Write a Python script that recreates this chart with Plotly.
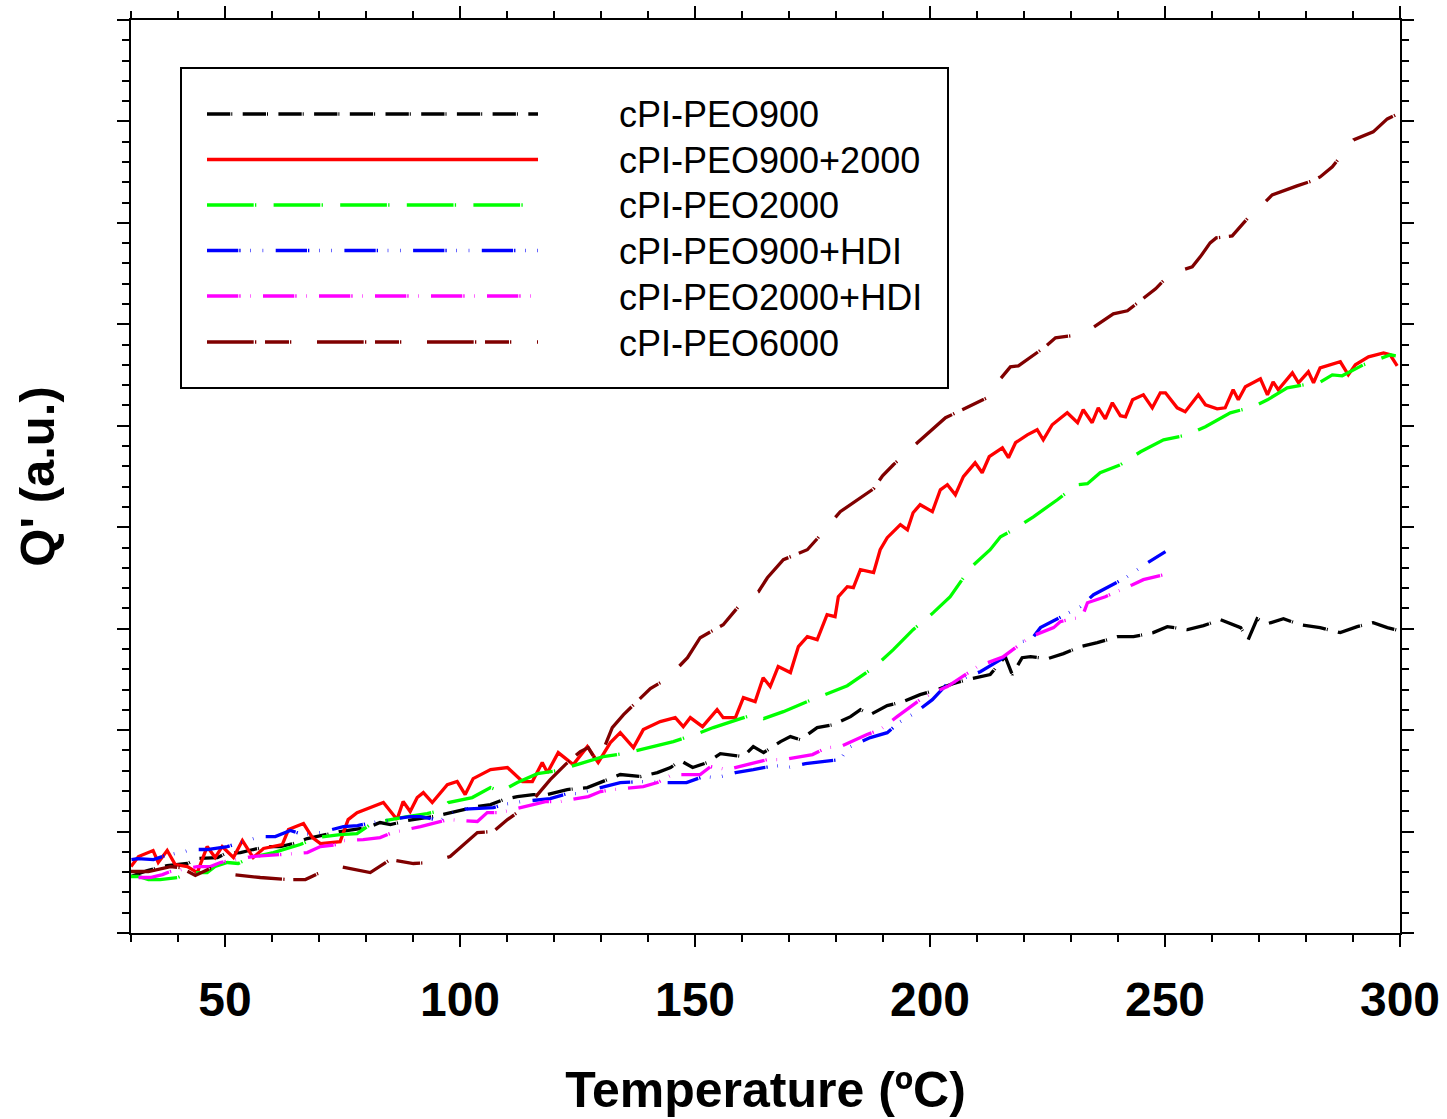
import plotly.graph_objects as go

# ---------------- data ----------------
# x: temperature (ºC); y: Q' in arbitrary units (one major tick = 1)
peo900_x = [30, 33.5, 37.7, 42.0, 44.1, 48.4, 50.1, 53.3, 56.0, 59.0, 61.8, 64.5, 67.5, 71.8, 74.5,
            80.3, 83.0, 85.2, 88.8, 94.3, 97.9, 100.1, 103.7, 106.5, 109.3, 112.2, 115.6, 118.6,
            122.8, 127.1, 130.5, 134.1, 138.4, 142.0, 144.8, 146.9, 149.5, 152.6, 155.4, 160.3,
            162.4, 164.6, 168.2, 170.3, 172.4, 176.0, 179.5, 183.1, 185.2, 187.3, 190.9, 194.3,
            197.9, 201.5, 204.9, 207.9, 212.8, 215.0, 216.0, 217.5, 219.6, 221.4, 225.0, 228.4,
            232.0, 235.6, 239.9, 243.3, 247.5, 250.5, 254.8, 258.2, 261.8, 266.1, 267.7, 269.6,
            271.8, 275.2, 278.8, 283.0, 287.3, 290.9, 294.3, 297.3, 300]
peo900_y = [0.557, 0.616, 0.665, 0.685, 0.734, 0.744, 0.783, 0.793, 0.823, 0.852, 0.852, 0.882, 0.931,
            0.970, 1.000, 1.039, 1.089, 1.069, 1.108, 1.148, 1.187, 1.207, 1.246, 1.266, 1.315, 1.345,
            1.365, 1.365, 1.414, 1.433, 1.493, 1.562, 1.542, 1.581, 1.631, 1.700, 1.631, 1.680, 1.768,
            1.739, 1.837, 1.778, 1.887, 1.936, 1.906, 2.025, 2.054, 2.133, 2.202, 2.153, 2.241, 2.281,
            2.350, 2.399, 2.458, 2.498, 2.547, 2.665, 2.724, 2.547, 2.714, 2.724, 2.704, 2.754, 2.823,
            2.862, 2.921, 2.921, 2.961, 3.020, 2.990, 3.030, 3.089, 3.010, 2.892, 3.098, 3.049, 3.098,
            3.039, 3.010, 2.961, 3.020, 3.059, 3.010, 2.980]

peo900_2000_x = [30, 31.6, 34.7, 35.8, 37.7, 39.4, 42.0, 44.1, 46.2, 47.9, 49.4, 51.8, 53.7, 56.0,
                 58.2, 62.2, 63.5, 66.7, 68.6, 70.3, 74.5, 76.2, 78.1, 80.9, 83.7, 86.6, 87.9, 89.4,
                 90.9, 92.2, 94.1, 97.3, 99.4, 101.1, 102.8, 106.5, 110.1, 113.3, 115.4, 117.5, 118.6,
                 120.9, 124.1, 127.1, 129.4, 132.0, 134.1, 136.9, 139.0, 142.6, 145.8, 147.5, 149.0,
                 151.6, 154.7, 156.0, 158.6, 160.3, 162.8, 164.5, 166.0, 167.7, 170.3, 172.0, 173.9,
                 176.0, 178.1, 179.8, 180.5, 182.4, 183.7, 185.2, 188.0, 189.4, 190.9, 193.7, 195.2,
                 196.4, 197.9, 200.5, 202.2, 203.7, 205.4, 207.1, 209.6, 211.1, 212.6, 215.4, 216.7,
                 218.2, 220.7, 222.8, 224.1, 226.0, 229.2, 231.4, 232.6, 234.5, 235.8, 237.3, 238.8,
                 240.5, 241.6, 243.1, 245.4, 247.3, 249.0, 250.1, 252.6, 254.3, 257.1, 258.6, 261.1,
                 262.8, 264.5, 265.6, 267.1, 270.3, 271.8, 273.0, 274.1, 277.1, 278.4, 280.5, 281.6,
                 283.0, 287.3, 289.0, 290.5, 293.3, 296.5, 297.9, 299.4]
peo900_2000_y = [0.655, 0.754, 0.813, 0.695, 0.813, 0.675, 0.655, 0.596, 0.852, 0.744, 0.852, 0.744,
                 0.911, 0.744, 0.833, 0.872, 1.020, 1.079, 0.941, 0.882, 0.901, 1.118, 1.187, 1.236,
                 1.286, 1.118, 1.296, 1.197, 1.335, 1.384, 1.286, 1.463, 1.493, 1.365, 1.522, 1.611,
                 1.631, 1.493, 1.493, 1.680, 1.581, 1.778, 1.660, 1.837, 1.680, 1.877, 1.975, 1.828,
                 2.005, 2.084, 2.123, 2.034, 2.123, 2.034, 2.202, 2.123, 2.123, 2.320, 2.281, 2.517,
                 2.429, 2.626, 2.567, 2.823, 2.921, 2.892, 3.138, 3.118, 3.315, 3.414, 3.404, 3.581,
                 3.552, 3.778, 3.897, 4.025, 3.975, 4.143, 4.222, 4.153, 4.369, 4.419, 4.320, 4.498,
                 4.635, 4.537, 4.695, 4.783, 4.685, 4.833, 4.911, 4.961, 4.862, 5.010, 5.128, 5.030,
                 5.158, 5.030, 5.177, 5.069, 5.227, 5.099, 5.089, 5.256, 5.305, 5.177, 5.325, 5.325,
                 5.177, 5.138, 5.305, 5.207, 5.167, 5.177, 5.355, 5.256, 5.384, 5.463, 5.305, 5.433,
                 5.355, 5.522, 5.424, 5.532, 5.424, 5.571, 5.631, 5.502, 5.601, 5.680, 5.719, 5.700,
                 5.591]

peo2000_x = [30, 31.6, 33.7, 36.2, 39.9, 42.6, 46.2, 47.9, 50.5, 52.8, 55.4, 60.3, 66.0, 69.6, 74.5,
             78.1, 80.9, 83.0, 88.8, 93.0, 95.8, 97.5, 102.6, 106.5, 108.6, 112.2, 116.5, 120.7, 125.6,
             130.5, 134.8, 139.4, 145.4, 151.1, 153.9, 159.7, 162.4, 164.6, 168.8, 173.9, 178.2, 182.4,
             188.0, 192.2, 196.4, 200.7, 204.3, 208.6, 212.8, 215.0, 217.7, 222.0, 227.1, 231.3, 233.5,
             236.2, 240.5, 244.8, 249.7, 254.8, 258.6, 263.9, 268.8, 271.8, 276.0, 279.5, 283.1, 285.6,
             287.7, 292.2, 298.0, 299.1]
peo2000_y = [0.557, 0.557, 0.527, 0.527, 0.547, 0.596, 0.596, 0.655, 0.695, 0.685, 0.744, 0.793, 0.872,
             0.941, 0.970, 0.980, 1.069, 1.099, 1.148, 1.177, 1.207, 1.286, 1.335, 1.433, 1.394, 1.483,
             1.571, 1.601, 1.670, 1.739, 1.768, 1.818, 1.887, 1.975, 2.025, 2.113, 2.153, 2.113, 2.182,
             2.281, 2.360, 2.438, 2.616, 2.793, 2.990, 3.158, 3.315, 3.601, 3.778, 3.906, 3.975, 4.103,
             4.271, 4.419, 4.429, 4.537, 4.616, 4.744, 4.862, 4.911, 4.990, 5.128, 5.187, 5.256, 5.374,
             5.404, 5.433, 5.502, 5.493, 5.601, 5.700, 5.690]

peo900_hdi_x = [30.1, 31.4, 34.8, 37.3, 40.5, 43.0, 46.2, 50.5, 53.3, 57.5, 60.7, 63.9, 66.7, 70.3,
                75.2, 78.2, 81.4, 85.2, 89.4, 91.6, 95.8, 99.4, 104.3, 107.1, 109.2, 111.4, 119.2,
                122.8, 125.0, 129.9, 134.1, 139.0, 143.7, 148.2, 151.8, 154.8, 158.6, 162.4, 164.6,
                168.2, 169.7, 173.5, 177.3, 180.9, 182.6, 187.3, 190.9, 193.7, 196.9, 200.5, 203.9,
                205.8, 207.9, 210.7, 215.0, 218.2, 219.2, 221.4, 223.5, 227.7, 232.0, 234.8, 237.7,
                241.6, 246.3, 250.1]
peo900_hdi_y = [0.724, 0.734, 0.724, 0.764, 0.793, 0.823, 0.823, 0.852, 0.892, 0.951, 0.951, 1.010,
                0.970, 0.990, 1.049, 1.059, 1.089, 1.118, 1.148, 1.148, 1.108, 1.217, 1.227, 1.236,
                1.266, 1.286, 1.325, 1.374, 1.374, 1.433, 1.483, 1.493, 1.483, 1.483, 1.542, 1.532,
                1.581, 1.611, 1.631, 1.650, 1.631, 1.670, 1.690, 1.709, 1.828, 1.926, 1.975, 2.084,
                2.172, 2.300, 2.468, 2.468, 2.527, 2.576, 2.695, 2.813, 2.872, 2.882, 3.010, 3.108,
                3.217, 3.335, 3.404, 3.502, 3.650, 3.759]

peo2000_hdi_x = [31.6, 34.1, 36.7, 38.4, 44.1, 46.9, 49.0, 56.0, 61.8, 67.5, 70.3, 73.9, 75.2, 79.4,
                 83.0, 85.6, 91.6, 95.8, 97.5, 103.7, 105.8, 108.6, 115.4, 118.2, 121.4, 127.3, 129.9,
                 132.7, 139.0, 142.0, 145.2, 151.1, 153.3, 156.9, 162.8, 165.4, 168.8, 175.0, 178.1,
                 180.9, 186.6, 189.4, 193.0, 197.9, 200.7, 203.7, 210.1, 212.8, 215.6, 221.4, 226.3,
                 227.7, 232.4, 233.5, 237.3, 243.1, 245.4, 249.7]
peo2000_hdi_y = [0.547, 0.547, 0.576, 0.606, 0.655, 0.655, 0.695, 0.754, 0.773, 0.793, 0.852, 0.872,
                 0.911, 0.921, 0.941, 0.990, 1.049, 1.099, 1.118, 1.099, 1.187, 1.187, 1.266, 1.296,
                 1.296, 1.345, 1.394, 1.414, 1.443, 1.483, 1.562, 1.562, 1.640, 1.611, 1.680, 1.709,
                 1.709, 1.759, 1.828, 1.837, 1.956, 2.005, 2.133, 2.300, 2.369, 2.429, 2.626, 2.675,
                 2.724, 2.921, 3.010, 3.069, 3.118, 3.256, 3.315, 3.433, 3.483, 3.532]

peo6000_x = [30, 33.7, 38.4, 40.5, 43.7, 46.8, 49.0, 51.6, 57.5, 63.3, 67.1, 69.8, 74.5, 80.9, 85.2,
             90.1, 93.7, 97.9, 103.7, 107.1, 110.1, 112.8, 115.6, 119.2, 122.4, 125.6, 127.3, 129.2,
             130.5, 132.4, 134.8, 140.5, 144.1, 148.4, 151.1, 156.0, 160.3, 163.5, 165.4, 168.8,
             173.9, 176.2, 180.9, 183.7, 188.0, 189.9, 192.2, 197.3, 203.3, 212.6, 214.3, 217.1,
             218.8, 224.5, 226.7, 231.6, 234.6, 239.0, 242.0, 248.0, 251.1, 255.8, 257.5, 259.6,
             260.9, 264.3, 268.6, 270.3, 272.8, 278.1, 281.3, 283.0, 285.6, 290.1, 294.3, 297.3, 300.0]
peo6000_y = [0.606, 0.606, 0.655, 0.645, 0.567, 0.635, 0.635, 0.576, 0.547, 0.527, 0.527, 0.586, 0.655,
             0.596, 0.724, 0.685, 0.695, 0.754, 0.990, 1.000, 1.118, 1.207, 1.315, 1.512, 1.660, 1.788,
             1.828, 1.680, 1.808, 2.025, 2.153, 2.409, 2.507, 2.714, 2.911, 3.039, 3.276, 3.364, 3.502,
             3.680, 3.778, 3.897, 4.153, 4.241, 4.379, 4.507, 4.616, 4.833, 5.079, 5.286, 5.424, 5.581,
             5.591, 5.778, 5.867, 5.897, 5.966, 6.103, 6.133, 6.350, 6.498, 6.567, 6.665, 6.803, 6.852,
             6.872, 7.099, 7.158, 7.276, 7.365, 7.414, 7.453, 7.552, 7.818, 7.897, 8.025, 8.084]

series_names = ["cPI-PEO900", "cPI-PEO900+2000", "cPI-PEO2000",
                "cPI-PEO900+HDI", "cPI-PEO2000+HDI", "cPI-PEO6000"]
x_tick_vals = [50, 100, 150, 200, 250, 300]
x_tick_text = ["50", "100", "150", "200", "250", "300"]

# ---------------- styles ----------------
colors = ["#000000", "#ff0000", "#00ff00", "#0000ff", "#ff00ff", "#800000"]
dashes = [
    "23.3px,1px,1px,10.4px",
    "solid",
    "46.7px,1.3px,1.3px,17.3px",
    "31.3px,1px,1.3px,9.7px,0.6px,11.7px,0.6px,12.5px",
    "31.3px,1px,1.3px,9.7px,0.6px,12.1px",
    "46.7px,1.3px,1.3px,8.7px,24px,1px,1.3px,25.7px",
]

xs = [peo900_x, peo900_2000_x, peo2000_x, peo900_hdi_x, peo2000_hdi_x, peo6000_x]
ys = [peo900_y, peo900_2000_y, peo2000_y, peo900_hdi_y, peo2000_hdi_y, peo6000_y]

W, H = 1447, 1119
ML, MR, MT, MB = 131, 47, 20, 186
PW, PH = W - ML - MR, H - MT - MB


def paper_x(px):
    return (px - ML) / PW


def paper_y(py):
    return (H - MB - py) / PH


FONT = "Liberation Sans, Arial, Helvetica, sans-serif"
LW = 3.3

fig = go.Figure()
for name, x, y, c, d in zip(series_names, xs, ys, colors, dashes):
    fig.add_trace(go.Scatter(x=x, y=y, mode="lines", name=name,
                             line=dict(color=c, width=LW, dash=d), showlegend=False))

# ---------------- legend (drawn as a framed box) ----------------
shapes = [dict(type="rect", xref="paper", yref="paper",
               x0=paper_x(181), x1=paper_x(948), y0=paper_y(388), y1=paper_y(68),
               line=dict(color="black", width=2), fillcolor="white", layer="below")]
annotations = []
row_y = [114, 159.5, 205, 250.5, 296, 342]
for name, c, d, ry in zip(series_names, colors, dashes, row_y):
    shapes.append(dict(type="line", xref="paper", yref="paper",
                       x0=paper_x(207), x1=paper_x(538), y0=paper_y(ry), y1=paper_y(ry),
                       line=dict(color=c, width=LW, dash=d)))
    annotations.append(dict(xref="paper", yref="paper", x=paper_x(617), y=paper_y(ry + 1),
                            xanchor="left", yanchor="middle", text=name, showarrow=False,
                            font=dict(family=FONT, size=36, color="black")))

axis_common = dict(showline=True, linecolor="black", linewidth=2, mirror="ticks",
                   ticks="outside", ticklen=12, tickwidth=2, tickcolor="black",
                   showgrid=False, zeroline=False, automargin=False)

fig.update_layout(
    width=W, height=H,
    margin=dict(l=ML, r=MR, t=MT, b=MB, autoexpand=False),
    paper_bgcolor="white", plot_bgcolor="white",
    showlegend=False,
    shapes=shapes, annotations=annotations,
    xaxis=dict(range=[30, 300], tickvals=x_tick_vals, ticktext=x_tick_text,
               ticklabelstandoff=11,
               tickfont=dict(family=FONT, size=48, color="black", weight="bold"),
               minor=dict(dtick=10, tick0=30, ticks="outside", ticklen=7, tickwidth=2,
                          tickcolor="black", showgrid=False),
               title=dict(text="Temperature (ºC)", standoff=47,
                          font=dict(family=FONT, size=50, color="black", weight="bold")),
               **axis_common),
    yaxis=dict(range=[0, 9], dtick=1, tick0=0, showticklabels=False,
               minor=dict(dtick=0.2, ticks="outside", ticklen=7, tickwidth=2,
                          tickcolor="black", showgrid=False),
               title=dict(text="Q' (a.u.)", standoff=47,
                          font=dict(family=FONT, size=49, color="black", weight="bold")),
               **axis_common),
)

fig.write_html("out.html", config={"displayModeBar": False},
               post_script="document.body.style.margin='0';")
